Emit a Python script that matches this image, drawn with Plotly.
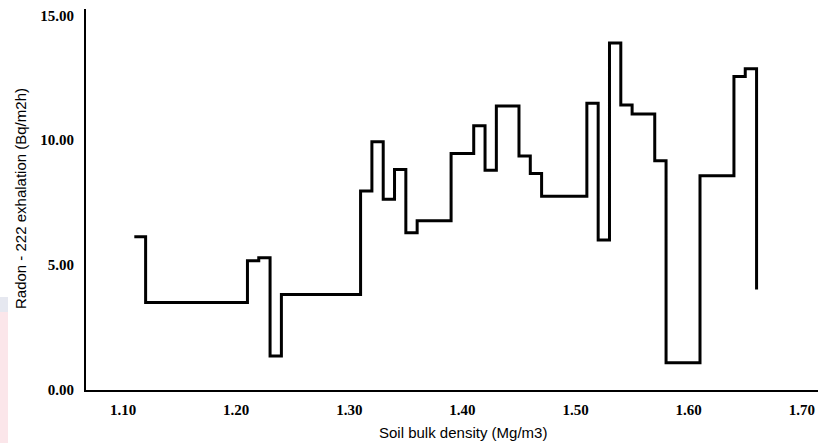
import plotly.graph_objects as go

# Soil bulk density (Mg/m3)
density = [1.11, 1.12, 1.21, 1.22, 1.23, 1.24, 1.31, 1.32, 1.33, 1.34,
           1.35, 1.36, 1.39, 1.41, 1.42, 1.43, 1.45, 1.46, 1.47, 1.51,
           1.52, 1.53, 1.54, 1.55, 1.57, 1.58, 1.61, 1.64, 1.65, 1.66]
# Radon-222 exhalation (Bq/m2h)
radon = [6.13, 3.50, 5.17, 5.29, 1.36, 3.82, 7.97, 9.94, 7.64, 8.83,
         6.29, 6.77, 9.47, 10.58, 8.80, 11.37, 9.37, 8.67, 7.76, 11.48,
         6.00, 13.89, 11.41, 11.05, 9.18, 1.09, 8.58, 12.55, 12.86, 4.02]

x_ticks = [1.10, 1.20, 1.30, 1.40, 1.50, 1.60, 1.70]
x_tick_labels = ["1.10", "1.20", "1.30", "1.40", "1.50", "1.60", "1.70"]
y_ticks = [0, 5, 10, 15]
y_tick_labels = ["0.00", "5.00", "10.00", "15.00"]

fig = go.Figure()
fig.add_trace(go.Scatter(
    x=density, y=radon, mode="lines",
    line=dict(shape="hv", color="black", width=3),
    hoverinfo="x+y", showlegend=False,
))

W, H = 818, 443
L, R, T, B = 86, 0, 9, 53

tick_font = dict(family="Liberation Serif, Times New Roman, serif", size=15,
                 color="black", weight="bold")
title_font = dict(family="Liberation Sans, Arial, sans-serif", size=15, color="black")

fig.update_layout(
    width=W, height=H,
    margin=dict(l=L, r=R, t=T, b=B),
    paper_bgcolor="white", plot_bgcolor="white",
    xaxis=dict(
        range=[1.0673, 1.7143], tickvals=x_ticks, ticktext=x_tick_labels,
        showgrid=False, zeroline=False, showline=True, linecolor="black", linewidth=2,
        ticks="", tickfont=tick_font, ticklabelstandoff=5,
    ),
    yaxis=dict(
        range=[0, 15.25], tickvals=y_ticks, ticktext=y_tick_labels,
        showgrid=False, zeroline=False, showline=True, linecolor="black", linewidth=2,
        ticks="", tickfont=tick_font, ticklabelstandoff=7,
    ),
    annotations=[
        dict(text="Soil bulk density (Mg/m3)", xref="paper", yref="paper",
             x=(463 - L) / (W - L - R), y=-(432 - (H - B)) / (H - T - B),
             xanchor="center", yanchor="middle", showarrow=False, font=title_font),
        dict(text="Radon - 222 exhalation (Bq/m2h)", xref="paper", yref="paper",
             x=-(L - 20) / (W - L - R), y=(H - B - 199) / (H - T - B),
             xanchor="center", yanchor="middle", textangle=-90, showarrow=False,
             font=title_font),
    ],
    shapes=[
        dict(type="rect", xref="paper", yref="paper",
             x0=-L / (W - L - R), x1=-(L - 8) / (W - L - R),
             y0=-(B) / (H - T - B), y1=(H - B - 297) / (H - T - B),
             fillcolor="#fbe6ea", line=dict(width=0), layer="below"),
        dict(type="rect", xref="paper", yref="paper",
             x0=-L / (W - L - R), x1=-(L - 8) / (W - L - R),
             y0=(H - B - 312) / (H - T - B), y1=(H - B - 297) / (H - T - B),
             fillcolor="#e6e8f0", line=dict(width=0), layer="below"),
    ],
)

fig.write_html("out.html")
